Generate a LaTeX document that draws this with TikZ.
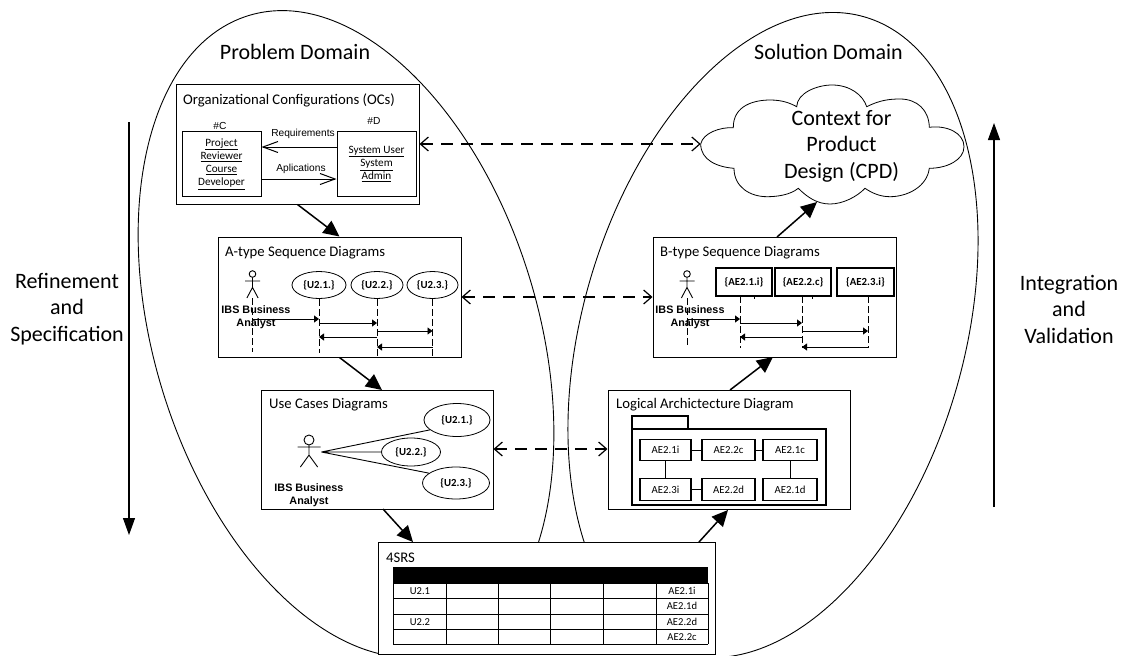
\documentclass[tikz,border=0pt]{standalone}
\usepackage{fontspec}
\setmainfont{Carlito}
\newfontfamily\arialfont{Liberation Sans}
\usetikzlibrary{arrows.meta,shapes.geometric}
\tikzset{
  bigtext/.style={font=\fontsize{22}{26.5}\selectfont, align=center, inner sep=0pt},
  titletext/.style={font=\fontsize{14.7}{16}\selectfont, anchor=west, inner sep=0pt},
  smalltext/.style={font=\fontsize{11.2}{13.3}\selectfont, align=center, inner sep=0pt},
  arrowtext/.style={font=\arialfont\fontsize{10.2}{12}\selectfont, inner sep=0pt},
  boldtext/.style={font=\fontsize{10.8}{12}\selectfont\bfseries, inner sep=0pt},
  actorname/.style={font=\arialfont\fontsize{10.8}{13}\selectfont\bfseries, align=center, inner sep=0pt},
  whitebox/.style={draw, fill=white, inner sep=0pt, line width=1pt},
  usecase/.style={draw, fill=white, ellipse, inner sep=0pt, line width=0.8pt},
  thickbox/.style={draw, fill=white, inner sep=0pt, line width=1.6pt},
  archbox/.style={draw, fill=white, inner sep=0pt, line width=1.3pt, minimum height=21.5pt, font=\fontsize{10.8}{12}\selectfont},
  flowarrow/.style={-{Triangle[length=16pt,width=15pt]}, line width=1.5pt},
  peerarrow/.style={{Straight Barb[length=8pt,width=14pt]}-{Straight Barb[length=8pt,width=14pt]}, line width=1.2pt, dash pattern=on 12pt off 8pt},
  openarrow/.style={-{Straight Barb[length=15pt,width=11pt]}, line width=1pt},
  lifeline/.style={line width=0.9pt, dash pattern=on 7pt off 3pt},
  msgarrow/.style={-{Triangle[length=5pt,width=7pt]}, line width=0.9pt},
  longarrow/.style={-{Triangle[length=17pt,width=12pt]}, line width=1.1pt},
  thinline/.style={line width=0.9pt},
}
% Strichmaennchen
\newcommand{\stickman}[5]{%
  \draw[thinline] (#1,#2) circle (#3);
  \draw[thinline] (#1,#2+#3) -- (#1,#2+0.56*#5) -- (#1-0.75*#4,#2+#5)
    (#1,#2+0.56*#5) -- (#1+0.75*#4,#2+#5)
    (#1-#4,#2+7) -- (#1+#4,#2+7);
}
\begin{document}
\begin{tikzpicture}[x=1pt,y=-1pt]
    \useasboundingbox (0,0) rectangle (1130,656);
    % Domaenen
    \draw[line width=0.9pt] (346,334) ellipse [x radius=192, y radius=333, rotate=17];
    \draw[line width=0.9pt] (773,335) ellipse [x radius=191, y radius=331, rotate=-16];
    \fill[white] (378,654) rectangle (716,657);
    \node[bigtext] (problem) at (295,52) {Problem Domain};
    \node[bigtext] (solution) at (828.5,52) {Solution Domain};
    % Seitentexte
    \node[bigtext] (refine) at (67,309) {Refinement\\and\\Specification};
    \node[bigtext] (integrate) at (1069,309) {Integration\\and\\Validation};
    \coordinate (downa) at (129,122);
    \coordinate (downb) at (129,535);
    \coordinate (upa) at (994,507);
    \coordinate (upb) at (994,123);
    \draw[longarrow] (downa) -- (downb);
    \draw[longarrow] (upa) -- (upb);
    % OCs
    \node[whitebox, minimum width=243pt, minimum height=120pt] (ocbox) at (297.5,144) {};
    \node[titletext] (octitle) at (183,100) {Organizational Configurations (OCs)};
    \node[whitebox, minimum width=79pt, minimum height=65pt] (cbox) at (221.5,163.5) {};
    \node[whitebox, minimum width=79pt, minimum height=65pt] (dbox) at (376.5,163.5) {};
    \node[smalltext] (ctext) at (221.5,164) {\underline{Project}\\\underline{Reviewer}\\\underline{Course}\\\underline{Developer}};
    \node[smalltext] (dtext) at (376.5,164) {\underline{System User}\\\underline{System}\\\underline{Admin}};
    \node[arrowtext] (clabel) at (220,126) {\#C};
    \node[arrowtext] (dlabel) at (374,121) {\#D};
    \draw[openarrow] (dbox.west |- 0,147) -- (cbox.east |- 0,147);
    \draw[openarrow] (cbox.east |- 0,179) -- (dbox.west |- 0,179);
    \node[arrowtext] (reqlabel) at (303,134) {Requirements};
    \node[arrowtext] (applabel) at (301,169) {Aplications};
    % A-type
    \node[whitebox, minimum width=243pt, minimum height=120pt] (abox) at (339.5,297) {};
    \node[titletext] (atitle) at (225,253) {A-type Sequence Diagrams};
    \node[usecase, minimum width=54pt, minimum height=27pt, boldtext] (au1) at (319,285) {\{U2.1.\}};
    \node[usecase, minimum width=52pt, minimum height=27pt, boldtext] (au2) at (377,285) {\{U2.2.\}};
    \node[usecase, minimum width=51pt, minimum height=27pt, boldtext] (au3) at (432.5,285) {\{U2.3.\}};
    \stickman{252.5}{274}{3.3}{7.5}{24}
    \coordinate (aactor) at (252.5,298);
    \draw[lifeline] (aactor) -- (252.5,352);
    \draw[lifeline] (au1.south) -- (au1 |- 0,353);
    \draw[lifeline] (au2.south) -- (au2 |- abox.south);
    \draw[lifeline] (au3.south) -- (au3 |- abox.south);
    \node[actorname] (aname) at (256,317) {IBS Business\\Analyst};
    \foreach \from/\to/\ypos in {aactor/au1/319, au1/au2/323, au2/au3/331, au2/au1/337, au3/au2/347}
      \draw[msgarrow] (\from |- 0,\ypos) -- (\to |- 0,\ypos);
    % B-type
    \node[whitebox, minimum width=243pt, minimum height=120pt] (bbox) at (774.5,297) {};
    \node[titletext] (btitle) at (660,253) {B-type Sequence Diagrams};
    \node[thickbox, minimum width=56pt, minimum height=28pt, boldtext] (bu1) at (744,282) {\{AE2.1.i\}};
    \node[thickbox, minimum width=56pt, minimum height=28pt, boldtext] (bu2) at (803,282) {\{AE2.2.c\}};
    \node[thickbox, minimum width=57pt, minimum height=28pt, boldtext] (bu3) at (865.5,282) {\{AE2.3.i\}};
    \stickman{687}{274}{3.3}{7.5}{24}
    \coordinate (bactor) at (687,298);
    \coordinate (bl1) at (740,296);
    \coordinate (bl2) at (802,296);
    \coordinate (bl3) at (868,296);
    \draw[lifeline] (bactor) -- (687,347);
    \foreach \life in {bl1,bl2,bl3}
      \draw[lifeline] (\life) -- (\life |- 0,348);
    \draw[thinline] (754,296) -- (754,299) (812,296) -- (812,299);
    \node[actorname] (bname) at (690,317) {IBS Business\\Analyst};
    \foreach \from/\to/\ypos in {bactor/bl1/319, bl1/bl2/323, bl2/bl3/331, bl2/bl1/337, bl3/bl2/347}
      \draw[msgarrow] (\from |- 0,\ypos) -- (\to |- 0,\ypos);
    % Use Cases
    \node[whitebox, minimum width=232pt, minimum height=119pt] (ucbox) at (377,449.5) {};
    \node[titletext] (uctitle) at (269,405) {Use Cases Diagrams};
    \node[usecase, minimum width=66pt, minimum height=33pt, boldtext] (uc1) at (457,420) {\{U2.1.\}};
    \node[usecase, minimum width=59pt, minimum height=28pt, boldtext] (uc2) at (411,452) {\{U2.2.\}};
    \node[usecase, minimum width=67pt, minimum height=32pt, boldtext] (uc3) at (456,483) {\{U2.3.\}};
    \stickman{309}{440}{5}{11.5}{27}
    \coordinate (ucactor) at (321.5,452);
    \draw[thinline] (ucactor) -- (uc1.-160) (ucactor) -- (uc2.west) (ucactor) -- (uc3.160);
    \node[actorname] (ucname) at (309,495.5) {IBS Business\\Analyst};
    % Logical Architecture
    \node[whitebox, minimum width=242pt, minimum height=119pt] (logbox) at (729,449.5) {};
    \node[titletext] (logtitle) at (616,405) {Logical Archictecture Diagram};
    \node[thickbox, minimum width=56pt, minimum height=13pt] (tab) at (660,422.5) {};
    \node[thickbox, minimum width=194pt, minimum height=76pt] (pack) at (729,467) {};
    \node[archbox, minimum width=51pt] (ae1i) at (665.5,450) {AE2.1i};
    \node[archbox, minimum width=53pt] (ae2c) at (728.5,450) {AE2.2c};
    \node[archbox, minimum width=54pt] (ae1c) at (790,450) {AE2.1c};
    \node[archbox, minimum width=51pt] (ae3i) at (665.5,489.5) {AE2.3i};
    \node[archbox, minimum width=53pt] (ae2d) at (728.5,489.5) {AE2.2d};
    \node[archbox, minimum width=54pt] (ae1d) at (790,489.5) {AE2.1d};
    \draw[thinline] (ae1i) -- (ae2c);
    \draw[thinline] (ae2c) -- (ae1c);
    \draw[thinline] (ae1i) -- (ae3i);
    \draw[thinline] (ae3i) -- (ae2d);
    \draw[thinline] (ae1c) -- (ae1d);
    % 4SRS
    \node[whitebox, minimum width=337pt, minimum height=112pt] (srsbox) at (546.5,598) {};
    \node[titletext] (srstitle) at (386,558) {4SRS};
    \fill (393,567) rectangle (708,583);
    \foreach \ypos in {583,598,614,629,644}
      \draw[thinline] (393,\ypos) -- (708,\ypos);
    \foreach \xpos in {393,446,498,550,603,656,708}
      \draw[thinline] (\xpos,583) -- (\xpos,644);
    \foreach \cellx/\celly/\celltext in {420/591/U2.1, 420/622/U2.2, 682/591/AE2.1i, 682/606/AE2.1d, 682/622/AE2.2d, 682/637/AE2.2c}
      \node[font=\fontsize{10.6}{12}\selectfont, inner sep=0pt] at (\cellx,\celly) {\celltext};
    % Kontext
    \draw[fill=white, line width=0.8pt] (700.7,144)
      .. controls (703,133) and (720,127) .. (733.3,127.7)
      .. controls (733,105) and (755,100) .. (770,100)
      .. controls (782,100) and (790,103) .. (796.7,106.7)
      .. controls (797,93) and (817,85) .. (832,85)
      .. controls (850,85) and (863,95) .. (866.7,106.7)
      .. controls (880,100) and (890,99) .. (900,99)
      .. controls (917,99) and (929,110) .. (929.3,127.3)
      .. controls (947,125) and (964,133) .. (964,146.7)
      .. controls (964,160) and (947,168.3) .. (929.3,168.3)
      .. controls (927,187) and (907,196.7) .. (890,196.7)
      .. controls (880,196.7) and (872,193) .. (865,188.3)
      .. controls (857,196.7) and (843,204) .. (830,204)
      .. controls (817,204) and (807,197) .. (798.3,188.3)
      .. controls (790,195) and (777,196.7) .. (767,196.7)
      .. controls (750,196.7) and (734,187) .. (734,168.3)
      .. controls (717,167) and (700.7,160) .. (700.7,144) -- cycle;
    \node[bigtext] (cpd) at (841.5,146) {Context for\\Product\\Design (CPD)};
    % Pfeile
    \coordinate (cpdleft) at (700.7,144);
    \coordinate (cpdin) at (817,202);
    \coordinate (srsin) at (413,542);
    \coordinate (srsout) at (699,542);
    \coordinate (ucout) at (383,509);
    \coordinate (ucin) at (382,390);
    \coordinate (login) at (728,510);
    \coordinate (logout) at (730,390);
    \coordinate (bin) at (773,357);
    \coordinate (bout) at (777,237);
    \draw[flowarrow] (ocbox.south) -- (abox.north);
    \draw[flowarrow] (abox.south) -- (ucin);
    \draw[flowarrow] (ucout) -- (srsin);
    \draw[flowarrow] (srsout) -- (login);
    \draw[flowarrow] (logout) -- (bin);
    \draw[flowarrow] (bout) -- (cpdin);
    \draw[peerarrow] (ocbox.east |- 0,144) -- (cpdleft);
    \draw[peerarrow] (abox.east |- 0,297) -- (bbox.west |- 0,297);
    \draw[peerarrow] (ucbox.east |- 0,449) -- (logbox.west |- 0,449);
\end{tikzpicture}
\end{document}
